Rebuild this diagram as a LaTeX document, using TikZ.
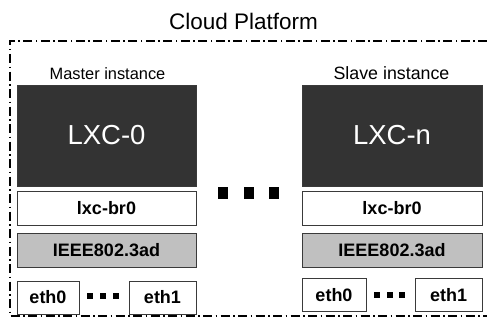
\documentclass[tikz,border=0pt]{standalone}
\usepackage{fontspec}
\setmainfont{Liberation Sans}
\usetikzlibrary{positioning}
\definecolor{LxcDark}{HTML}{333333}
\definecolor{BondGray}{HTML}{C0C0C0}
\definecolor{EdgeGray}{HTML}{3A3A3A}

\begin{document}
\begin{tikzpicture}[x=1pt, y=-1pt,
  box/.style={draw=EdgeGray, line width=0.9pt, fill=white, inner sep=0pt, outer sep=0pt,
    font=\fontsize{18}{20}\selectfont\bfseries},
  lxcbox/.style={box, fill=LxcDark, text=white, minimum width=179pt, minimum height=101pt,
    font=\fontsize{27.5}{30}\selectfont},
  barbox/.style={box, minimum width=179pt, minimum height=34pt},
  ethbox/.style={box, minimum height=33pt}]
\useasboundingbox (0,0) rectangle (487,321);

% Platform frame (right side runs off the page)
\node (cloud) at (243.5,21.5) {\fontsize{22.5}{26}\selectfont Cloud Platform};
\draw[black, line width=1.4pt, dash pattern=on 9pt off 3.5pt on 1.5pt off 3.5pt, dash phase=9.5pt]
  (495,41) -- (10,41) -- (10,316) -- (495,316);

% Master instance
\node (masterlbl) at (107.5,73.5) {\fontsize{16.4}{19}\selectfont Master instance};
\node[lxcbox] (lxc0) at (106.5,135.5) {LXC-0};
\node[barbox] (br0m) at (106.5,208.5) {lxc-br0};
\node[barbox, fill=BondGray] (bondm) at (106.5,250) {IEEE802.3ad};
\node[ethbox, minimum width=62pt] (eth0m) at (48,297.5) {eth0};
\node[ethbox, minimum width=67pt] (eth1m) at (162.5,297.5) {eth1};

% Slave instance
\node (slavelbl) at (391.5,73.5) {\fontsize{17.8}{20}\selectfont Slave instance};
\node[lxcbox, minimum width=180pt] (lxcn) at (392,135.5) {LXC-n};
\node[barbox, minimum width=180pt] (br0s) at (392,208) {lxc-br0};
\node[barbox, minimum width=180pt, fill=BondGray] (bonds) at (392,250) {IEEE802.3ad};
\node[ethbox, minimum width=64pt] (eth0s) at (334,295) {eth0};
\node[ethbox, minimum width=67pt] (eth1s) at (448.5,295) {eth1};

% Dots between instances and between ports
\foreach \x in {218,244,269}
  \fill[black] (\x,187) rectangle ++(10,12);
\foreach \x in {87,100,113}
  \fill[black] (\x,293) rectangle ++(5.5,6);
\foreach \x in {374,387,399}
  \fill[black] (\x,292) rectangle ++(5.5,6);

\end{tikzpicture}
\end{document}
